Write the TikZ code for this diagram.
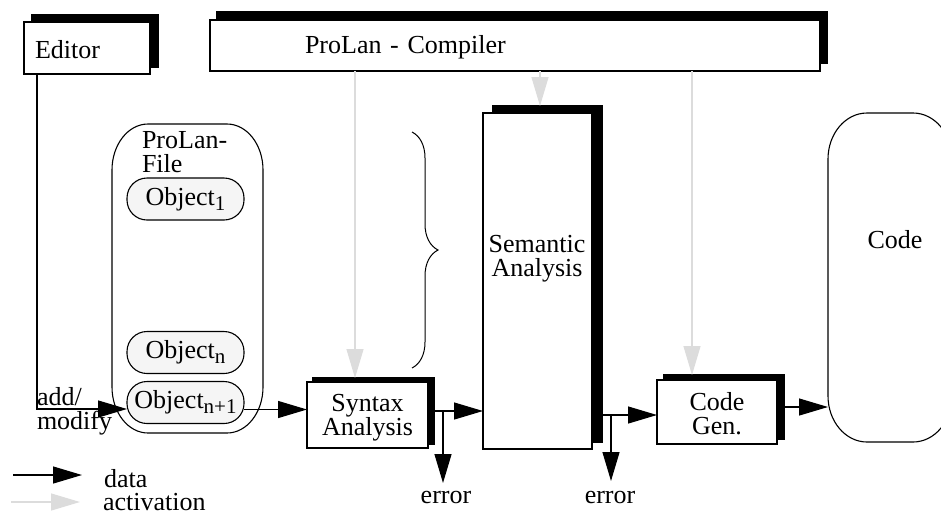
\documentclass[tikz,border=0pt]{standalone}
\usepackage{fontspec}
\setmainfont{Liberation Serif}
\usetikzlibrary{arrows.meta,shadows,decorations.pathreplacing}

\definecolor{actgray}{RGB}{220,220,220}
\definecolor{objfill}{RGB}{245,245,245}

% lowered, smaller index after "Object"
\newcommand\idx[1]{\raisebox{-5pt}{\fontsize{21}{21}\selectfont #1}}

% outline with elliptical corners around an (undrawn) node: #1 node, #2 x radius, #3 y radius
\newcommand\drawoval[3]{%
  \draw[line width=1.1pt]
    ([yshift=-#3]#1.north west) arc[start angle=180,end angle=90,x radius=#2,y radius=#3]
    -- ([xshift=-#2]#1.north east) arc[start angle=90,end angle=0,x radius=#2,y radius=#3]
    -- ([yshift=#3]#1.south east) arc[start angle=0,end angle=-90,x radius=#2,y radius=#3]
    -- ([xshift=#2]#1.south west) arc[start angle=-90,end angle=-180,x radius=#2,y radius=#3]
    -- cycle;}

\tikzset{
  box/.style={draw, fill=white, line width=1.1pt, inner sep=0pt, outer sep=0pt},
  blkshadow/.style 2 args={copy shadow={shadow xshift=#1, shadow yshift=#2, fill=black, draw=black}},
  obj/.style={draw, fill=objfill, line width=1.1pt, rounded corners=20pt,
              minimum width=117pt, minimum height=42pt, inner sep=0pt, outer sep=0pt},
  holder/.style={inner sep=0pt, outer sep=0pt},
  txt/.style={inner sep=0pt, outer sep=0pt},
  dataflow/.style={line width=1.2pt, -{Triangle[length=29pt,width=17pt]}},
  actflow/.style={line width=1.2pt, draw=actgray, -{Triangle[length=29pt,width=17pt,fill=actgray]}},
}

\begin{document}
\begin{tikzpicture}[x=1pt, y=-1pt,
  every node/.style={font=\fontsize{26}{24}\selectfont}]
\useasboundingbox (0,0) rectangle (941,515);

% tools
\node[box, blkshadow={8pt}{7pt}, minimum width=126pt, minimum height=52pt,
      text width=104pt, align=left, text height=21pt] (ed) at (87,48) {Editor};
\node[box, blkshadow={7pt}{8pt}, minimum width=610pt, minimum height=51pt,
      text width=420pt, align=left, text height=21pt] (comp) at (515,45.5) {ProLan - Compiler};

% source file with its objects
\node[holder, minimum width=151pt, minimum height=309pt] (file) at (187.5,278.5) {};
\drawoval{file}{36pt}{46pt}
\node[txt, anchor=north west, align=left] (filelbl) at (142,131) {ProLan-\\File};
\node[obj] (o1) at (185.5,199) {Object\idx{1}};
\node[obj] (o2) at (185.5,352.5) {Object\idx{n}};
\node[obj] (o3) at (185.5,402.5) {Object\idx{n+1}};

% compiler phases
\node[box, blkshadow={6pt}{4pt}, minimum width=121pt, minimum height=66pt] (syn) at (367.5,415) {};
\node[txt, align=center] (synlbl) at ([yshift=-3pt]syn.center) {Syntax\\Analysis};
\node[box, blkshadow={10pt}{7pt}, minimum width=109pt, minimum height=336pt] (sem) at (537.5,281) {};
\node[txt, align=center] (semlbl) at (537,259) {Semantic\\Analysis};
\node[box, blkshadow={7pt}{5pt}, minimum width=120pt, minimum height=64pt] (cg) at (717,412) {};
\node[txt, align=center] (cglbl) at ([yshift=-2pt]cg.center) {Code\\Gen.};

% generated code
\node[holder, minimum width=124pt, minimum height=329pt] (code) at (890,277.5) {};
\drawoval{code}{39pt}{46pt}
\node[txt] (codelbl) at (895,240) {Code};

% brace over the objects
\draw[line width=1pt, decorate, decoration={brace, amplitude=26pt}] (412,132) -- (412,368);

% editing
\coordinate (edfoot) at (ed.south -| 37,0);
\coordinate (addin) at (127,409);
\draw[dataflow] (edfoot) |- (addin);
\node[txt, anchor=west, align=left] (addlbl) at (37,411) {add/\\modify};

% data flow through the phases
\draw[dataflow] ([yshift=-7pt]o3.east) -- ([yshift=-7pt]o3.east -| syn.west);
\draw[dataflow] ([yshift=4pt]syn.east) -- ([yshift=4pt]syn.east -| sem.west);
\coordinate (err1) at (443,483);
\draw[dataflow] ([yshift=4pt]syn.east -| err1) -- (err1);
\node[txt, anchor=base] (e1lbl) at (446,503) {error};
\draw[dataflow] ([yshift=-3pt]cg.west -| sem.east) -- ([yshift=-3pt]cg.west);
\coordinate (err2) at (611,481);
\draw[dataflow] ([yshift=-3pt]cg.west -| err2) -- (err2);
\node[txt, anchor=base] (e2lbl) at (610,503) {error};
\draw[dataflow] ([yshift=5pt]cg.east) -- ([yshift=5pt]cg.east -| code.west);

% activation by the compiler
\coordinate (g1) at (355,0);
\coordinate (g2) at (540,0);
\coordinate (g3) at (692,0);
\draw[actflow] (g1 |- comp.south) -- ([yshift=4pt]g1 |- syn.north);
\draw[actflow] (g2 |- comp.south) -- ([yshift=7pt]g2 |- sem.north);
\draw[actflow] (g3 |- comp.south) -- ([yshift=5pt]g3 |- cg.north);

% legend
\coordinate (lg1a) at (13,475);
\coordinate (lg1b) at (82,475);
\draw[dataflow] (lg1a) -- (lg1b);
\coordinate (lg2a) at (11,502);
\coordinate (lg2b) at (80,502);
\draw[actflow] (lg2a) -- (lg2b);
\node[txt, anchor=base west] (ldata) at (104,487) {data};
\node[txt, anchor=base west] (lact) at (103,510) {activation};
\end{tikzpicture}
\end{document}
